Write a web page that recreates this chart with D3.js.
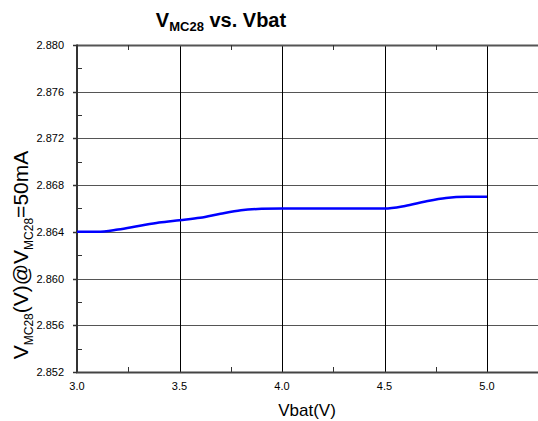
<!DOCTYPE html>
<html><head><meta charset="utf-8">
<script src="https://cdn.jsdelivr.net/npm/d3@7"></script>
<style>body{margin:0;background:#fff;} svg{display:block;font-family:"Liberation Sans",Arial,sans-serif;}</style>
</head><body>
<svg id="c" width="538" height="421"></svg>
<script>
const vbat = [3.0,3.1,3.2,3.3,3.4,3.5,3.6,3.7,3.8,3.9,4.0,4.1,4.2,4.3,4.4,4.5,4.6,4.7,4.8,4.9,5.0];
const vmc28 = [2.8640,2.8640,2.8642,2.8645,2.8648,2.8650,2.8652,2.86555,2.86585,2.86597,2.8660,2.8660,2.8660,2.8660,2.8660,2.8660,2.86622,2.8666,2.8669,2.8670,2.8670];
const xTicks = [3.0,3.5,4.0,4.5,5.0];
const xMinor = [3.25,3.75,4.25,4.75,5.25];
const yTicks = [2.852,2.856,2.860,2.864,2.868,2.872,2.876,2.880];
const yMinor = [2.854,2.858,2.862,2.866,2.870,2.874,2.878];

const svg = d3.select("#c");
const x = d3.scaleLinear().domain([3.0,5.5]).range([77,589.5]);
const y = d3.scaleLinear().domain([2.852,2.880]).range([372,45]);

svg.append("g").selectAll("line").data(yTicks.slice(1,-1)).join("line")
  .attr("x1",77).attr("x2",538).attr("y1",d=>Math.round(y(d))+0.5).attr("y2",d=>Math.round(y(d))+0.5)
  .attr("stroke","#555").attr("stroke-width",1.2);
svg.append("g").selectAll("line").data(xTicks.slice(1)).join("line")
  .attr("x1",d=>Math.round(x(d))+0.5).attr("x2",d=>Math.round(x(d))+0.5).attr("y1",45).attr("y2",372)
  .attr("stroke","#000").attr("stroke-width",1);
svg.append("line").attr("x1",77).attr("x2",538).attr("y1",45.5).attr("y2",45.5).attr("stroke","#555").attr("stroke-width",2);
svg.append("g").selectAll("line").data(xMinor).join("line")
  .attr("x1",d=>Math.round(x(d))+0.5).attr("x2",d=>Math.round(x(d))+0.5).attr("y1",45).attr("y2",50)
  .attr("stroke","#333");
svg.append("g").selectAll("line").data(xMinor).join("line")
  .attr("x1",d=>Math.round(x(d))+0.5).attr("x2",d=>Math.round(x(d))+0.5).attr("y1",372).attr("y2",367)
  .attr("stroke","#333");
svg.append("g").selectAll("line").data(yMinor).join("line")
  .attr("x1",77).attr("x2",82).attr("y1",d=>Math.round(y(d))+0.5).attr("y2",d=>Math.round(y(d))+0.5)
  .attr("stroke","#333");

svg.append("line").attr("x1",77).attr("x2",77).attr("y1",44.5).attr("y2",373).attr("stroke","#333").attr("stroke-width",2);
svg.append("line").attr("x1",76).attr("x2",538).attr("y1",372.5).attr("y2",372.5).attr("stroke","#444").attr("stroke-width",2);
svg.append("g").selectAll("line").data(yTicks).join("line")
  .attr("x1",73).attr("x2",77).attr("y1",d=>Math.round(y(d))+0.5).attr("y2",d=>Math.round(y(d))+0.5)
  .attr("stroke","#333").attr("stroke-width",1.5);

svg.append("g").selectAll("text").data(yTicks).join("text")
  .attr("x",64).attr("y",d=>y(d)+4).attr("text-anchor","end").attr("font-size",11).attr("fill","#000")
  .text(d=>d3.format(".3f")(d));
svg.append("g").selectAll("text").data(xTicks).join("text")
  .attr("x",d=>x(d)).attr("y",390).attr("text-anchor","middle").attr("font-size",11).attr("fill","#000")
  .text(d=>d3.format(".1f")(d));

const line = d3.line().x((d,i)=>x(vbat[i])).y(d=>y(d)).curve(d3.curveMonotoneX);
svg.append("path").datum(vmc28).attr("d",line).attr("fill","none").attr("stroke","#0000ff").attr("stroke-width",2.5);

const t = svg.append("text").attr("x",221).attr("y",27).attr("text-anchor","middle").attr("font-weight","bold").attr("font-size",20);
t.append("tspan").text("V");
t.append("tspan").attr("font-size",13).attr("dy",4).text("MC28");
t.append("tspan").attr("dy",-4).text(" vs. Vbat");

svg.append("text").attr("x",307).attr("y",416).attr("text-anchor","middle").attr("font-size",17).text("Vbat(V)");

const yl = svg.append("text").attr("transform","translate(28,255) rotate(-90)").attr("text-anchor","middle").attr("font-size",21);
yl.append("tspan").text("V");
yl.append("tspan").attr("font-size",12).attr("dy",5).text("MC28");
yl.append("tspan").attr("dy",-5).text("(V)@V");
yl.append("tspan").attr("font-size",12).attr("dy",5).text("MC28");
yl.append("tspan").attr("dy",-5).text("=50mA");
</script>
</body></html>
